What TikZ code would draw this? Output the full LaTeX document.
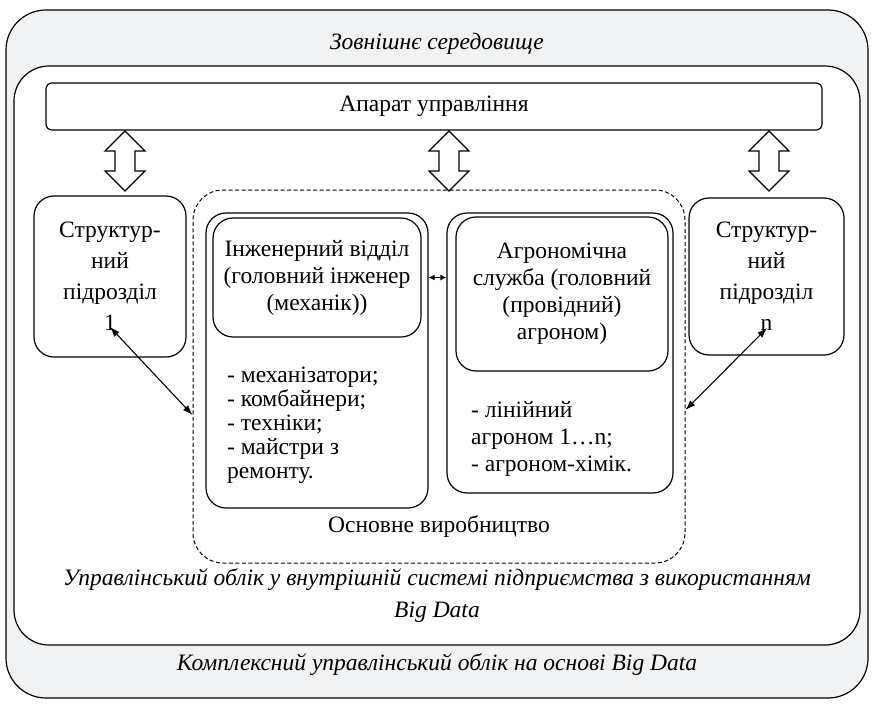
\documentclass[tikz,border=0pt]{standalone}
\usepackage{fontspec}
\setmainfont{Liberation Serif}
\usetikzlibrary{arrows.meta,calc}
\definecolor{envgray}{RGB}{241,242,244}
\tikzset{
    rbox/.style={draw, line width=1.2pt, rounded corners=#1, inner sep=0pt},
    rbox/.default=20pt,
    fatarr/.pic={\draw[line width=1.2pt, fill=white] (0,0) -- (20,20) -- (10,20) -- (10,40) -- (20,40) -- (0,60)
        -- (-20,40) -- (-10,40) -- (-10,20) -- (-20,20) -- cycle;},
    conn/.style={line width=1.1pt, {Latex[length=10pt,width=7pt]}-{Latex[length=10pt,width=7pt]}},
    link/.style={line width=1.6pt, {Latex[length=6pt,width=6pt]}-{Latex[length=6pt,width=6pt]}},
    itext/.style={font=\fontsize{23.5pt}{32pt}\selectfont\itshape}
}
\begin{document}
\begin{tikzpicture}[x=1pt,y=-1pt,font=\fontsize{23.5pt}{31pt}\selectfont]
        \useasboundingbox (0,0) rectangle (874,704);

        \node[rbox=40pt, fill=envgray, minimum width=862pt, minimum height=688pt] (env) at (437,354) {};
        \node[itext] (envt) at (437,44) {Зовнішнє середовище};
        \node[rbox=35pt, fill=white, minimum width=846pt, minimum height=579pt] (sys) at (437,355.5) {};

        \node[rbox=6pt, minimum width=776pt, minimum height=47pt] (app) at (434,106.5) {Апарат управління};

        \pic at (125,131) {fatarr};
        \pic at (449,131) {fatarr};
        \pic at (769,131) {fatarr};

        \node[rbox, minimum width=152pt, minimum height=161pt, align=center] (s1) at (110,276.5) {Структур-\\ний\\підрозділ\\1};
        \node[rbox, minimum width=155pt, minimum height=157pt, align=center] (sn) at (766.5,276.5) {Структур-\\ний\\підрозділ\\n};

        \node[rbox=30pt, line width=1pt, dash pattern=on 4pt off 2.5pt, minimum width=492pt, minimum height=373pt] (prod) at (439,376.5) {};
        \node (prodt) at (439,527) {Основне виробництво};

        \node[rbox, minimum width=222pt, minimum height=295pt] (eng) at (317,360.5) {};
        \node[rbox, minimum width=208pt, minimum height=119pt, align=center, font=\fontsize{23.5pt}{27pt}\selectfont] (engi) at (317,277.5) {Інженерний відділ\\(головний інженер\\(механік))};
        \node[anchor=north west, inner sep=0pt, align=left, font=\fontsize{23.5pt}{24pt}\selectfont] (engl) at (227,367) {- механізатори;\\- комбайнери;\\- техніки;\\- майстри з\\ремонту.};

        \node[rbox, minimum width=226pt, minimum height=280pt] (agro) at (560,353) {};
        \node[rbox, minimum width=212pt, minimum height=154pt, align=center, font=\fontsize{23.5pt}{27pt}\selectfont] (agroi) at (562,294) {Агрономічна\\служба (головний\\(провідний)\\агроном)};
        \node[anchor=north west, inner sep=0pt, align=left, font=\fontsize{23.5pt}{27pt}\selectfont] (agrol) at (471,401) {- лінійний\\агроном 1…n;\\- агроном-хімік.};

        \path[draw,link] (engi.east -| eng.east) -- (engi.east -| agro.west);

        \coordinate (p1) at (110,327);
        \coordinate (pn) at (767,328);
        \path[draw,conn] (p1) -- ([yshift=-38.5pt]prod.west);
        \path[draw,conn] (pn) -- ([yshift=-33.5pt]prod.east);

        \node[itext, align=center] (syst) at (437,596) {Управлінський облік у внутрішній системі підприємства з використанням\\Big Data};
        \node[itext] (envb) at (437,665) {Комплексний управлінський облік на основі Big Data};

    \end{tikzpicture}
\end{document}
